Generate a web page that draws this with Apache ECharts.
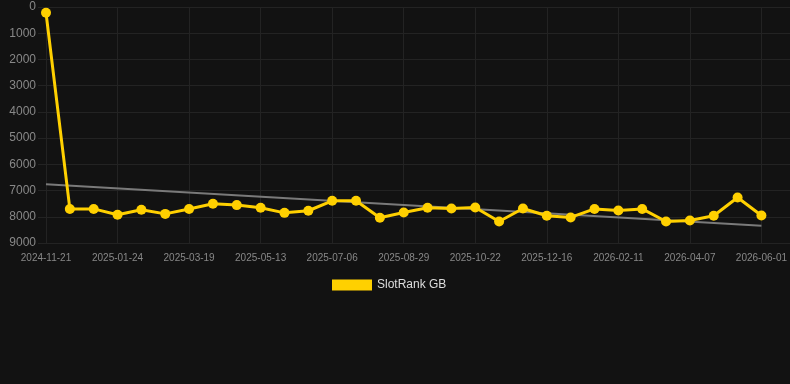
<!DOCTYPE html>
<html>
<head>
<meta charset="utf-8">
<script src="https://cdn.jsdelivr.net/npm/echarts@6/dist/echarts.min.js"></script>
<style>
    html, body { margin: 0; padding: 0; background: #121212; }
    #chart { width: 790px; height: 384px; }
</style>
</head>
<body>
<div id="chart"></div>
<script>
// categories (only every third one is labelled on the axis)
var dates = [
    '2024-11-21', '2024-12-12', '2025-01-03', '2025-01-24', '2025-02-11', '2025-03-01',
    '2025-03-19', '2025-04-06', '2025-04-25', '2025-05-13', '2025-05-31', '2025-06-18',
    '2025-07-06', '2025-07-24', '2025-08-11', '2025-08-29', '2025-09-16', '2025-10-04',
    '2025-10-22', '2025-11-09', '2025-11-28', '2025-12-16', '2026-01-04', '2026-01-23',
    '2026-02-11', '2026-03-01', '2026-03-19', '2026-04-07', '2026-04-25', '2026-05-14',
    '2026-06-01'
];
// SlotRank GB rank values
var rankValues = [
    220, 7700, 7700, 7920, 7730, 7890, 7700, 7505, 7555, 7655, 7850, 7770,
    7390, 7390, 8040, 7835, 7655, 7685, 7645, 8180, 7685, 7960, 8025, 7700,
    7760, 7700, 8180, 8140, 7960, 7265, 7950
];
// trend line ends (first and last category)
var trendEnds = [6760, 8340];
var yTicks = { min: 0, max: 9000, interval: 1000 };

var trendData = dates.map(function (d, i) {
    if (i === 0) return trendEnds[0];
    if (i === dates.length - 1) return trendEnds[1];
    return null;
});

var gridColor = '#232323';
var labelFont = 'Arial, Liberation Sans, sans-serif';

var option = {
    backgroundColor: '#121212',
    animation: false,
    grid: [
        // wide grid: horizontal lines run past the plot like the original
        { left: 38, right: 0, top: 7, bottom: 141 },
        // plot grid for the data
        { left: 46, right: 28, top: 7, bottom: 141 }
    ],
    legend: {
        top: 279,
        left: 332,
        padding: 0,
        itemWidth: 40,
        itemHeight: 11,
        itemGap: 7,
        data: [{ name: 'SlotRank GB', icon: 'rect' }],
        textStyle: {
            color: '#dddddd',
            fontSize: 12,
            fontFamily: labelFont
        }
    },
    xAxis: [
        {
            gridIndex: 0,
            type: 'value',
            show: false
        },
        {
            gridIndex: 1,
            type: 'category',
            boundaryGap: false,
            data: dates,
            axisLine: { show: false },
            axisTick: { show: true, interval: 2, length: 5, lineStyle: { color: gridColor } },
            axisLabel: {
                interval: 2,
                color: '#888888',
                fontSize: 10,
                margin: 10,
                fontFamily: labelFont
            },
            splitLine: { show: true, interval: 2, lineStyle: { color: gridColor, width: 1 } }
        }
    ],
    yAxis: [
        {
            gridIndex: 0,
            type: 'value',
            inverse: true,
            min: yTicks.min,
            max: yTicks.max,
            interval: yTicks.interval,
            axisLine: { show: false },
            axisTick: { show: false },
            axisLabel: {
                color: '#888888',
                fontSize: 12,
                margin: 2,
                fontFamily: labelFont,
                formatter: function (v) { return String(v); }
            },
            splitLine: { lineStyle: { color: gridColor, width: 1 } }
        },
        {
            gridIndex: 1,
            type: 'value',
            inverse: true,
            min: yTicks.min,
            max: yTicks.max,
            interval: yTicks.interval,
            show: false,
            splitLine: { show: false }
        }
    ],
    series: [
        {
            name: 'trend',
            type: 'line',
            xAxisIndex: 1,
            yAxisIndex: 1,
            data: trendData,
            connectNulls: true,
            symbol: 'none',
            silent: true,
            lineStyle: { color: '#7a7a7a', width: 2 },
            z: 1
        },
        {
            name: 'SlotRank GB',
            type: 'line',
            xAxisIndex: 1,
            yAxisIndex: 1,
            data: rankValues,
            symbol: 'circle',
            symbolSize: 10,
            itemStyle: { color: '#FFD000' },
            lineStyle: { color: '#FFD000', width: 3 },
            z: 2
        }
    ]
};

var myChart = echarts.init(document.getElementById('chart'));
myChart.setOption(option);
</script>
</body>
</html>
